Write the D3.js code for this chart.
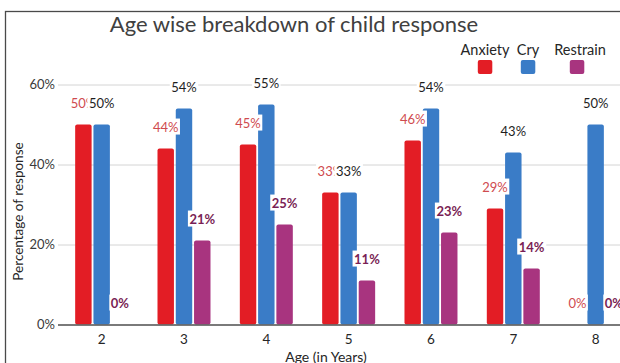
<!DOCTYPE html>
<html>
<head>
<meta charset="utf-8">
<script src="https://cdn.jsdelivr.net/npm/d3@7"></script>
<style>
  html, body { margin: 0; padding: 0; background: #fff; overflow: hidden; }
  svg { display: block; font-family: Lato, "Open Sans", sans-serif; }
</style>
</head>
<body>
<svg id="chart" width="620" height="363"></svg>
<script>
// Share of children (%) showing each response, by age
const ages = ["2", "3", "4", "5", "6", "7", "8"];
const anxiety = [50, 44, 45, 33, 46, 29, 0];
const cry = [50, 54, 55, 33, 54, 43, 50];
const restrain = [0, 21, 25, 11, 23, 14, 0];
const seriesNames = ["Anxiety", "Cry", "Restrain"];
const yTicks = [0, 20, 40, 60];

const colors = { Anxiety: "#e31d25", Cry: "#3a7cc7", Restrain: "#a8347f" };
const labelColors = { Anxiety: "#cf4b4f", Cry: "#1e1e1e", Restrain: "#7a1f55" };
const labelWeights = { Anxiety: "normal", Cry: "normal", Restrain: "bold" };

const series = [
  { name: "Anxiety", values: anxiety },
  { name: "Cry", values: cry },
  { name: "Restrain", values: restrain }
];

const svg = d3.select("#chart");

// outer frame (runs past the right and bottom edges)
svg.append("rect")
  .attr("x", 5.5).attr("y", 11.5)
  .attr("width", 700).attr("height", 420)
  .attr("fill", "none").attr("stroke", "#4a4a4a").attr("stroke-width", 1.3);

const x = d3.scaleBand().domain(ages).range([60.5, 636.8]).padding(0);
const xi = d3.scaleBand().domain(seriesNames).range([-26.5, 26.5]).paddingInner(0.1);
const y = d3.scaleLinear().domain([0, 60]).range([324.5, 84.5]);

// gridlines + y labels
const yAxis = d3.axisLeft(y)
  .tickValues(yTicks)
  .tickFormat(d => d + "%")
  .tickSize(-(700 - 58))
  .tickPadding(3);
const gy = svg.append("g").attr("transform", "translate(58,0)").call(yAxis);
gy.select(".domain").remove();
gy.selectAll(".tick line").attr("stroke", "#d4d4d4").attr("stroke-width", 1);
gy.selectAll(".tick text")
  .attr("fill", "#3a3a3a").attr("font-size", 13).attr("font-family", "Lato, sans-serif");

// bars
const groups = svg.append("g").selectAll("g")
  .data(series).join("g")
  .attr("fill", d => colors[d.name]);

groups.selectAll("rect")
  .data(d => d.values.map((v, i) => ({ name: d.name, age: ages[i], v })))
  .join("rect")
  .attr("x", d => x(d.age) + x.bandwidth() / 2 + xi(d.name))
  .attr("width", xi.bandwidth())
  .attr("y", d => y(d.v))
  .attr("height", d => y(0) - y(d.v))
  .attr("rx", 2).attr("ry", 2);

// x axis
const xAxis = d3.axisBottom(x).tickSize(0).tickPadding(10);
const gx = svg.append("g").attr("transform", `translate(0,${y(0)})`).call(xAxis);
gx.select(".domain").remove();
gx.selectAll(".tick text")
  .attr("fill", "#262626").attr("font-size", 13.5).attr("font-family", "Lato, sans-serif");
svg.append("line")
  .attr("x1", 58).attr("x2", 700)
  .attr("y1", y(0) + 0.5).attr("y2", y(0) + 0.5)
  .attr("stroke", "#555").attr("stroke-width", 1.4);

// value labels with white backing, drawn series by series
series.forEach(s => {
  const g = svg.append("g");
  s.values.forEach((v, i) => {
    const cx = x(ages[i]) + x.bandwidth() / 2 + xi(s.name) + xi.bandwidth() / 2;
    const cy = y(v) - 21.5;
    const lg = g.append("g");
    const bg = lg.append("rect").attr("fill", "#fff");
    const t = lg.append("text")
      .attr("x", cx).attr("y", cy).attr("dy", "0.35em")
      .attr("text-anchor", "middle")
      .attr("font-size", 13)
      .attr("font-weight", labelWeights[s.name])
      .attr("fill", labelColors[s.name])
      .text(v + "%");
    const b = t.node().getBBox();
    bg.attr("x", b.x - 1.5).attr("y", b.y).attr("width", b.width + 3).attr("height", b.height);
  });
});

// title
svg.append("text")
  .attr("x", 294).attr("y", 31.5)
  .attr("text-anchor", "middle")
  .attr("font-size", 22).attr("fill", "#404040")
  .text("Age wise breakdown of child response");

// legend
const legendX = { Anxiety: 485, Cry: 528, Restrain: 577 };
const lg = svg.append("g").selectAll("g").data(seriesNames).join("g");
lg.append("text")
  .attr("x", d => d === "Restrain" ? legendX[d] + 3 : legendX[d])
  .attr("y", 54.5)
  .attr("text-anchor", "middle")
  .attr("font-size", 14.5).attr("fill", "#262626")
  .text(d => d);
lg.append("rect")
  .attr("x", d => legendX[d] - 7.2).attr("y", 60)
  .attr("width", 14.5).attr("height", 14)
  .attr("rx", 2)
  .attr("fill", d => colors[d]);

// axis titles
svg.append("text")
  .attr("transform", "translate(23,211.5) rotate(-90)")
  .attr("text-anchor", "middle")
  .attr("font-size", 13.5).attr("fill", "#262626")
  .text("Percentage of response");

svg.append("text")
  .attr("x", 326).attr("y", 362)
  .attr("text-anchor", "middle")
  .attr("font-size", 14).attr("fill", "#262626")
  .text("Age (in Years)");
</script>
</body>
</html>
